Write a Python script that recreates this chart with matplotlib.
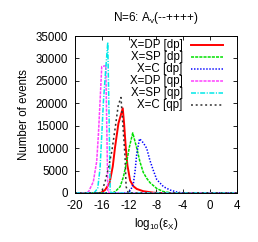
import matplotlib
matplotlib.use("Agg")
import matplotlib.pyplot as plt

plt.rcParams['font.family'] = ['Liberation Sans', 'DejaVu Sans']
plt.rcParams['mathtext.fontset'] = 'custom'
plt.rcParams['mathtext.rm'] = 'Liberation Sans'
plt.rcParams['mathtext.it'] = 'Liberation Sans:italic'
plt.rcParams['lines.scale_dashes'] = False

title = "N=6: A$_\\mathrm{v}$(--++++)"
xlabel = "log$_{10}$(ε$_\\mathrm{X}$)"
ylabel = "Number of events"
labels = ["X=DP [dp]", "X=SP [dp]", "X=C [dp]", "X=DP [qp]", "X=SP [qp]", "X=C [qp]"]

# DP [dp]
x_dp_dp = [-20, -16.2, -15.56, -14.9, -14.42, -14.07, -13.58, -12.94, -12.74, -12.5, -12.25,
           -11.85, -11.36, -10.86, -9.9, -8.4, -7.5, 4]
y_dp_dp = [0, 0, 670, 2200, 5900, 10300, 15500, 18900, 15500, 10300, 6200,
           2800, 1500, 900, 400, 70, 0, 0]
# SP [dp]
x_sp_dp = [-20, -14.5, -14.07, -13.33, -12.84, -12.35, -11.95, -11.46, -10.86, -10.4, -9.9,
           -9.4, -8.9, -7.9, -6.9, -6.0, -5.5, 4]
y_sp_dp = [0, 0, 300, 1400, 3600, 7000, 10300, 13400, 10000, 7000, 4600,
           3300, 2300, 1000, 300, 80, 0, 0]
# C [dp]
x_c_dp = [-20, -12.2, -11.75, -11.36, -11.1, -10.86, -10.45, -9.9, -9.4, -8.9, -8.4,
          -7.9, -6.9, -5.9, -4.9, -4.0, 4]
y_c_dp = [0, 0, 670, 2150, 5100, 8850, 12100, 11200, 10000, 7200, 5000,
          3000, 1400, 650, 200, 0, 0]
# DP [qp]
x_dp_qp = [-20, -18.5, -18.0, -17.3, -16.8, -16.55, -16.3, -16.05, -15.45, -15.15, -14.8, 4]
y_dp_qp = [0, 0, 300, 2500, 7000, 12900, 20400, 28200, 28400, 300, 0, 0]
# SP [qp]
x_sp_qp = [-20, -17.2, -16.65, -16.3, -16.05, -15.8, -15.45, -15.16, -14.96, -14.8, -14.5, 4]
y_sp_qp = [0, 0, 1000, 5500, 12900, 20400, 27800, 33600, 16700, 300, 0, 0]
# C [qp]
x_c_qp = [-20, -16.4, -16.05, -15.56, -15.07, -14.57, -14.07, -13.6, -13.2, -12.6, -12.44, -12.1, 4]
y_c_qp = [0, 0, 300, 2500, 5500, 9200, 14400, 19600, 21300, 8100, 1400, 0, 0]

xticks = [-20, -16, -12, -8, -4, 0, 4]
yticks = [0, 5000, 10000, 15000, 20000, 25000, 30000, 35000]

series = [
    (x_dp_dp, y_dp_dp, dict(color='#ff0000', lw=1.4, ls='-')),
    (x_sp_dp, y_sp_dp, dict(color='#00e000', lw=1.1, dashes=(2.2, 0.8))),
    (x_c_dp, y_c_dp, dict(color='#0000ff', lw=1.1, dashes=(1.0, 1.2))),
    (x_dp_qp, y_dp_qp, dict(color='#ff40ff', lw=1.1, dashes=(2.2, 0.8))),
    (x_sp_qp, y_sp_qp, dict(color='#00e8e8', lw=1.1, dashes=(3.6, 1.1, 0.8, 1.1))),
    (x_c_qp, y_c_qp, dict(color='#303030', lw=1.1, dashes=(1.4, 2.0))),
]

fig = plt.figure(figsize=(2.58, 2.42), dpi=100)
ax = fig.add_axes([0.291, 0.2025, 0.628, 0.6485])

for xs, ys, st in series:
    ax.plot(xs, ys, **st)

ax.set_xlim(-20, 4)
ax.set_ylim(0, 35000)
ax.set_xticks(xticks)
ax.set_yticks(yticks)
ax.set_xticklabels([str(t) for t in xticks])
ax.set_yticklabels([str(t) for t in yticks])
ax.tick_params(direction='in', length=3, width=0.6, top=True, right=True,
               labelsize=8.3, pad=5)
for s in ax.spines.values():
    s.set_linewidth(0.7)

ax.set_title(title, fontsize=8.5, pad=11)
ax.set_xlabel(xlabel, fontsize=8.3, labelpad=3)
ax.set_ylabel(ylabel, fontsize=8.3, labelpad=4)

# gnuplot-style key: text right-aligned, sample to its right
ys_key = [0.943, 0.868, 0.790, 0.714, 0.638, 0.562]
for (xs, ys, st), lab, yk in zip(series, labels, ys_key):
    ax.text(0.665, yk, lab, transform=ax.transAxes, ha='right', va='center', fontsize=8.3)
    ax.plot([0.716, 0.914], [yk, yk], transform=ax.transAxes, **st)

fig.savefig("out.png", dpi=100)
